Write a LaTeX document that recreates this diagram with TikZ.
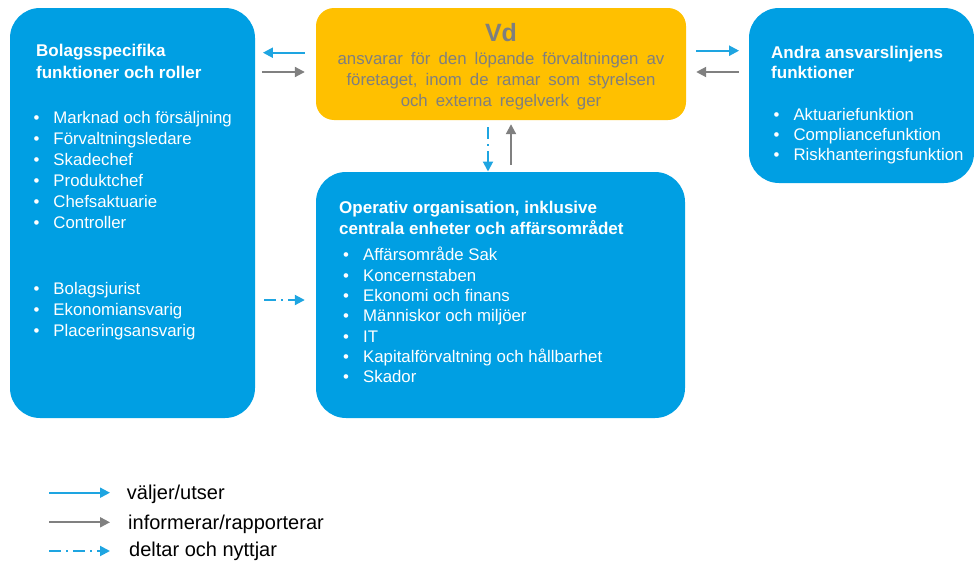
\documentclass[tikz,border=0pt]{standalone}
\usepackage{fontspec}
\setmainfont{Liberation Sans}
\usetikzlibrary{arrows.meta}
\definecolor{boxblue}{HTML}{009FE3}
\definecolor{vdorange}{HTML}{FFC000}
\definecolor{pilblue}{HTML}{1EA5E1}
\definecolor{pilgray}{HTML}{808080}
\definecolor{vdtext}{HTML}{7F7F7F}
\newcommand{\pkt}{\makebox[20pt][l]{\textbullet}}
\newcommand{\breddord}{\spaceskip 8pt\relax}
\begin{document}
\begin{tikzpicture}[x=1pt,y=-1pt,
  ruta/.style={fill=boxblue,rounded corners=30pt,inner sep=0pt},
  rubrik/.style={anchor=base west,inner sep=0pt,text=white,font=\fontsize{17}{20}\selectfont\bfseries},
  punkt/.style={anchor=base west,inner sep=0pt,text=white,font=\fontsize{16.8}{20}\selectfont},
  vdrad/.style={anchor=base,inner sep=0pt,text=vdtext,font=\fontsize{16.8}{20}\selectfont\breddord},
  valjer/.style={pilblue,line width=2pt,-{Triangle[length=10pt,width=10pt]}},
  informerar/.style={pilgray,line width=2pt,-{Triangle[length=10pt,width=10pt]}},
  deltar/.style={valjer,dash pattern=on 12pt off 5pt on 2pt off 5pt},
  forklaring/.style={anchor=base west,inner sep=0pt,font=\fontsize{20}{24}\selectfont}]
\useasboundingbox (0,0) rectangle (974,562);
% rutor
\node[ruta,minimum width=245pt,minimum height=410pt] (bolag) at (132.5,213) {};
\node[ruta,fill=vdorange,rounded corners=18pt,minimum width=370pt,minimum height=112pt] (vd) at (501,64) {};
\node[ruta,minimum width=225pt,minimum height=175pt] (andra) at (861.5,95.5) {};
\node[ruta,minimum width=369pt,minimum height=246pt] (oper) at (500.5,295) {};
% vd
\node[vdrad,font=\fontsize{25}{30}\selectfont\bfseries] (vd-t) at (501,41) {Vd};
\node[vdrad] (vd-1) at (501,64.3) {ansvarar för den löpande förvaltningen av};
\node[vdrad] (vd-2) at (501,85.7) {företaget, inom de ramar som styrelsen};
\node[vdrad] (vd-3) at (501,106.7) {och externa regelverk ger};
% bolagsspecifika
\node[rubrik] (bolag-t1) at (36,56.7) {Bolagsspecifika};
\node[rubrik] (bolag-t2) at (36,78.3) {funktioner och roller};
\foreach \t [count=\i] in {Marknad och försäljning,Förvaltningsledare,Skadechef,Produktchef,Chefsaktuarie,Controller}
  \node[punkt] (bolag-\i) at (33.3,{123.2+21.1*(\i-1)}) {\pkt\t};
\foreach \t [count=\i] in {Bolagsjurist,Ekonomiansvarig,Placeringsansvarig}
  \node[punkt] (bolag-b\i) at (33.3,{294.3+20.9*(\i-1)}) {\pkt\t};
% operativ organisation
\node[rubrik] (oper-t1) at (339,213.3) {Operativ organisation, inklusive};
\node[rubrik] (oper-t2) at (339,234) {centrala enheter och affärsområdet};
\foreach \t [count=\i] in {Affärsområde Sak,Koncernstaben,Ekonomi och finans,Människor och miljöer,IT,Kapitalförvaltning och hållbarhet,Skador}
  \node[punkt] (oper-\i) at (343,{260.7+20.35*(\i-1)}) {\pkt\t};
% andra linjen
\node[rubrik] (andra-t1) at (771,58.3) {Andra ansvarslinjens};
\node[rubrik] (andra-t2) at (771,78.3) {funktioner};
\foreach \t [count=\i] in {Aktuariefunktion,Compliancefunktion,Riskhanteringsfunktion}
  \node[punkt] (andra-\i) at (773.3,{120+20*(\i-1)}) {\pkt\t};
% pilar
\draw[valjer,shorten <=11pt,shorten >=7.7pt] (vd.west |- 0,52.7) -- (bolag.east |- 0,52.7);
\draw[informerar,shorten <=6.7pt,shorten >=11pt] (bolag.east |- 0,72) -- (vd.west |- 0,72);
\draw[valjer,shorten <=10pt,shorten >=9.7pt] (vd.east |- 0,50.7) -- (andra.west |- 0,50.7);
\draw[informerar,shorten <=10pt,shorten >=10pt] (andra.west |- 0,72) -- (vd.east |- 0,72);
\draw[deltar,shorten <=7pt,shorten >=0.3pt] (vd.south -| 488,0) -- (oper.north -| 488,0);
\draw[informerar,shorten <=7pt,shorten >=4pt] (oper.north -| 511,0) -- (vd.south -| 511,0);
\draw[deltar,shorten <=9pt,shorten >=11pt] (bolag.east |- 0,300) -- (oper.west |- 0,300);
% forklaring
\node[forklaring] (leg-1) at (126.7,499.3) {väljer/utser};
\node[forklaring] (leg-2) at (128,529.3) {informerar/rapporterar};
\node[forklaring] (leg-3) at (129,556) {deltar och nyttjar};
\coordinate (k1) at (49,492.7);
\coordinate (k2) at (49,522.3);
\coordinate (k3) at (49,551);
\draw[valjer,shorten >=16.7pt] (k1) -- (k1 -| leg-1.west);
\draw[informerar,shorten >=18pt] (k2) -- (k2 -| leg-2.west);
\draw[deltar,shorten >=19pt] (k3) -- (k3 -| leg-3.west);
\end{tikzpicture}
\end{document}
